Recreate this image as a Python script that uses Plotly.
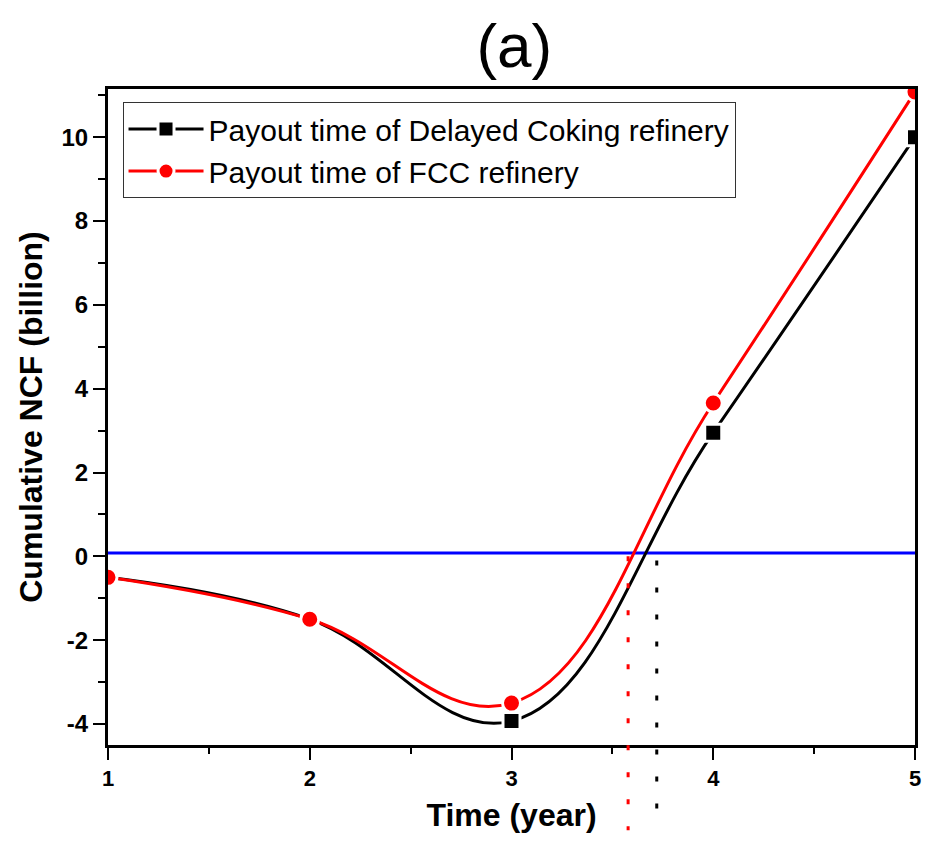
import plotly.graph_objects as go

# ---- data ----
years = [1, 2, 3, 4, 5]
ncf_delayed_coking = [-0.5, -1.5, -3.93, 2.95, 10.0]
ncf_fcc = [-0.5, -1.5, -3.5, 3.66, 11.08]
series_names = ["Payout time of Delayed Coking refinery", "Payout time of FCC refinery"]
zero_line_x = [1, 5]
zero_line_y = [0.08, 0.08]
payout_time_delayed = 3.72
payout_time_fcc = 3.578
x_ticks = [1, 2, 3, 4, 5]
y_ticks = [-4, -2, 0, 2, 4, 6, 8, 10]

FONT = "Liberation Sans, Arial, sans-serif"
Y_RANGE = [-4.5, 11.15]

fig = go.Figure()

fig.add_trace(go.Scatter(
    x=zero_line_x, y=zero_line_y, mode="lines",
    line=dict(color="#0000ff", width=3), showlegend=False, hoverinfo="skip"))

fig.add_trace(go.Scatter(
    x=years, y=ncf_delayed_coking, mode="lines+markers", name=series_names[0],
    line=dict(color="black", width=3, shape="spline", smoothing=1.15),
    marker=dict(symbol="square", size=17, color="black",
                line=dict(color="white", width=3))))

fig.add_trace(go.Scatter(
    x=years, y=ncf_fcc, mode="lines+markers", name=series_names[1],
    line=dict(color="#ff0000", width=3, shape="spline", smoothing=1.15),
    marker=dict(symbol="circle", size=18, color="#ff0000",
                line=dict(color="white", width=3))))


def to_paper(v):
    return (v - Y_RANGE[0]) / (Y_RANGE[1] - Y_RANGE[0])


shapes = [
    dict(type="line", xref="x", yref="paper",
         x0=payout_time_fcc, x1=payout_time_fcc,
         y0=to_paper(0.0), y1=-0.13,
         line=dict(color="#ff0000", width=3, dash="5px,22px")),
    dict(type="line", xref="x", yref="paper",
         x0=payout_time_delayed, x1=payout_time_delayed,
         y0=to_paper(-0.1), y1=-0.1,
         line=dict(color="black", width=3, dash="5px,22px")),
]

axis_common = dict(
    showline=True, linecolor="black", linewidth=3, mirror=True,
    ticks="outside", tickcolor="black", tickwidth=2, ticklen=12,
    showgrid=False, zeroline=False,
)

fig.update_layout(
    width=930, height=849,
    margin=dict(l=108, r=9, t=89, b=104),
    paper_bgcolor="white", plot_bgcolor="white",
    font=dict(family=FONT, color="black"),
    title=dict(text="(a)", x=0.553, xanchor="center", y=1 - 45 / 849, yanchor="middle",
               yref="container", font=dict(size=62, family=FONT, color="black")),
    xaxis=dict(
        range=[1, 5], tickvals=x_ticks, ticktext=[str(v) for v in x_ticks],
        tickfont=dict(size=22, family=FONT, color="black", weight="bold"),
        title=dict(text="<b>Time (year)</b>", font=dict(size=32, family=FONT), standoff=14),
        minor=dict(dtick=0.5, ticks="outside", ticklen=6, tickwidth=2, tickcolor="black"),
        **axis_common),
    yaxis=dict(
        range=Y_RANGE, tickvals=y_ticks, ticktext=[str(v) for v in y_ticks],
        tickfont=dict(size=24, family=FONT, color="black", weight="bold"),
        title=dict(text="<b>Cumulative NCF (billion)</b>", font=dict(size=32, family=FONT), standoff=10),
        minor=dict(dtick=1, ticks="outside", ticklen=7, tickwidth=2, tickcolor="black"),
        **axis_common),
    legend=dict(
        x=0.018, y=0.98, xanchor="left", yanchor="top",
        bgcolor="white", bordercolor="#333333", borderwidth=1,
        font=dict(size=30, family=FONT, color="black"),
        itemwidth=75, tracegroupgap=0),
    shapes=shapes,
)

fig.write_html("out.html")
